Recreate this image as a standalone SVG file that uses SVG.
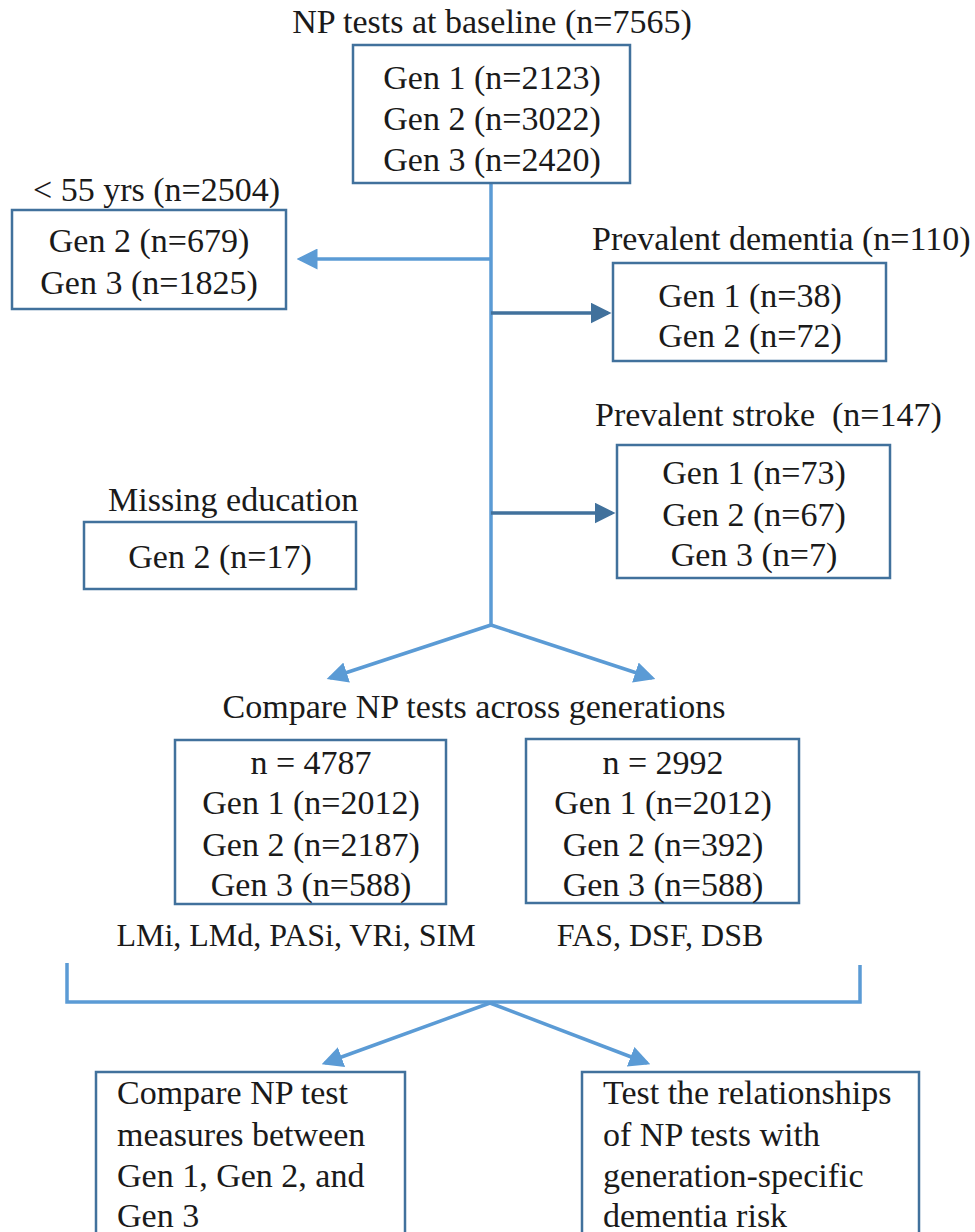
<svg xmlns="http://www.w3.org/2000/svg" width="975" height="1232" viewBox="0 0 975 1232">
<style>
text{font-family:"Liberation Serif","Times New Roman",serif;font-size:34px;fill:#1a1a1a}
.c{text-anchor:middle}
.sm{font-size:32px}
.box{fill:#fff;stroke:#41719c;stroke-width:2.5}
.ln{fill:none;stroke:#5b9bd5;stroke-width:3.5}
.dk{fill:none;stroke:#41719c;stroke-width:3.5}
</style>
<defs>
<marker id="al" markerWidth="6" markerHeight="6" refX="5" refY="3" orient="auto" markerUnits="strokeWidth"><path d="M0,0 L6,3 L0,6 z" fill="#5b9bd5"/></marker>
<marker id="ad" markerWidth="6" markerHeight="6" refX="5" refY="3" orient="auto" markerUnits="strokeWidth"><path d="M0,0 L6,3 L0,6 z" fill="#41719c"/></marker>
</defs>
<g id="connectors">
<line class="ln" x1="491" y1="183" x2="491" y2="625"/>
<line class="ln" x1="491" y1="259" x2="300" y2="259" marker-end="url(#al)"/>
<line class="dk" x1="491" y1="313" x2="608" y2="313" marker-end="url(#ad)"/>
<line class="dk" x1="491" y1="513" x2="612" y2="513" marker-end="url(#ad)"/>
<line class="ln" x1="491" y1="625" x2="330" y2="678" marker-end="url(#al)"/>
<line class="ln" x1="491" y1="625" x2="652" y2="678" marker-end="url(#al)"/>
<polyline class="ln" points="67,963 67,1002 860,1002 860,965"/>
<line class="ln" x1="490" y1="1003" x2="325" y2="1063" marker-end="url(#al)"/>
<line class="ln" x1="490" y1="1003" x2="647" y2="1063" marker-end="url(#al)"/>
</g>
<g id="baseline">
<text class="c" x="492" y="33">NP tests at baseline (n=7565)</text>
<rect class="box" x="353" y="45" width="277" height="138"/>
<text class="c" x="492" y="89">Gen 1 (n=2123)</text>
<text class="c" x="492" y="130">Gen 2 (n=3022)</text>
<text class="c" x="492" y="171">Gen 3 (n=2420)</text>
</g>
<g id="under55">
<text x="33" y="201">&lt; 55 yrs (n=2504)</text>
<rect class="box" x="12" y="210" width="274" height="99"/>
<text class="c" x="149" y="252">Gen 2 (n=679)</text>
<text class="c" x="149" y="294">Gen 3 (n=1825)</text>
</g>
<g id="dementia">
<text x="592" y="250">Prevalent dementia (n=110)</text>
<rect class="box" x="613" y="263" width="273" height="98"/>
<text class="c" x="750" y="307">Gen 1 (n=38)</text>
<text class="c" x="750" y="347">Gen 2 (n=72)</text>
</g>
<g id="stroke">
<text x="595" y="426" xml:space="preserve">Prevalent stroke  (n=147)</text>
<rect class="box" x="617" y="445" width="273" height="133"/>
<text class="c" x="754" y="484">Gen 1 (n=73)</text>
<text class="c" x="754" y="526">Gen 2 (n=67)</text>
<text class="c" x="754" y="566">Gen 3 (n=7)</text>
</g>
<g id="education">
<text x="108" y="511">Missing education</text>
<rect class="box" x="84" y="522" width="272" height="67"/>
<text class="c" x="220" y="568">Gen 2 (n=17)</text>
</g>
<text class="c" x="474" y="718">Compare NP tests across generations</text>
<g id="set1">
<rect class="box" x="175" y="740" width="271" height="164"/>
<text class="c" x="311" y="774">n = 4787</text>
<text class="c" x="311" y="814">Gen 1 (n=2012)</text>
<text class="c" x="311" y="856">Gen 2 (n=2187)</text>
<text class="c" x="311" y="896">Gen 3 (n=588)</text>
<text class="c sm" x="296" y="946">LMi, LMd, PASi, VRi, SIM</text>
</g>
<g id="set2">
<rect class="box" x="526" y="739" width="273" height="164"/>
<text class="c" x="663" y="774">n = 2992</text>
<text class="c" x="663" y="814">Gen 1 (n=2012)</text>
<text class="c" x="663" y="856">Gen 2 (n=392)</text>
<text class="c" x="663" y="896">Gen 3 (n=588)</text>
<text class="c sm" x="660" y="946">FAS, DSF, DSB</text>
</g>
<g id="compare">
<rect class="box" x="96" y="1072" width="309" height="175"/>
<text x="117" y="1104">Compare NP test</text>
<text x="117" y="1146">measures between</text>
<text x="117" y="1187">Gen 1, Gen 2, and</text>
<text x="117" y="1227">Gen 3</text>
</g>
<g id="relationships">
<rect class="box" x="582" y="1072" width="337" height="175"/>
<text x="603" y="1104">Test the relationships</text>
<text x="603" y="1146">of NP tests with</text>
<text x="603" y="1187">generation-specific</text>
<text x="603" y="1227">dementia risk</text>
</g>
</svg>
